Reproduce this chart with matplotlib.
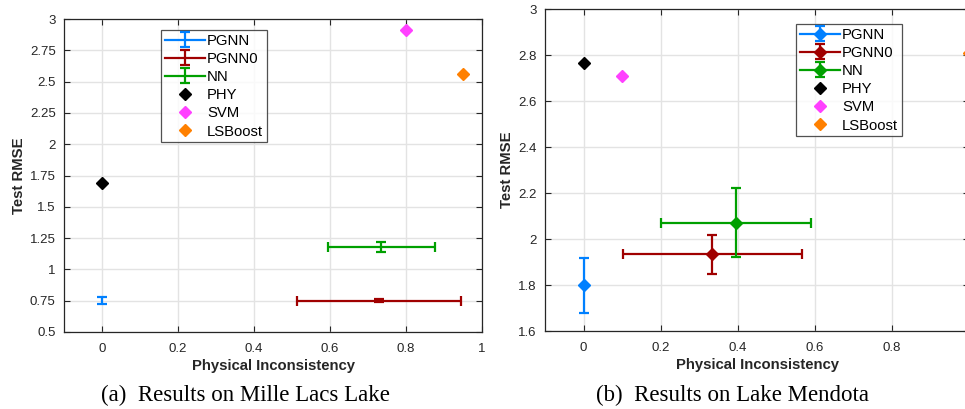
import matplotlib
matplotlib.use("Agg")
import matplotlib.pyplot as plt
import numpy as np

plt.rcParams['font.family'] = ['Liberation Sans', 'DejaVu Sans']

# ---- data: Mille Lacs Lake (a) ----
models_eb = ["PGNN", "PGNN0", "NN"]
a_x = [0.0, 0.729, 0.735]
a_y = [0.75, 0.75, 1.177]
a_xerr = [0.0, 0.216, 0.14]
a_yerr = [0.026, 0.013, 0.04]
models_pt = ["PHY", "SVM", "LSBoost"]
a_pt_x = [0.0, 0.80, 0.95]
a_pt_y = [1.69, 2.91, 2.56]

# ---- data: Lake Mendota (b) ----
b_x = [0.0, 0.334, 0.396]
b_y = [1.798, 1.934, 2.07]
b_xerr = [0.0, 0.232, 0.194]
b_yerr = [0.12, 0.085, 0.15]
b_pt_x = [0.0, 0.10, 1.0]
b_pt_y = [2.766, 2.708, 2.808]

a_yticks = [0.5, 0.75, 1, 1.25, 1.5, 1.75, 2, 2.25, 2.5, 2.75, 3]
a_yticklabels = ["0.5", "0.75", "1", "1.25", "1.5", "1.75", "2", "2.25", "2.5", "2.75", "3"]
a_xticks = [0, 0.2, 0.4, 0.6, 0.8, 1]
a_xticklabels = ["0", "0.2", "0.4", "0.6", "0.8", "1"]
b_yticks = [1.6, 1.8, 2.0, 2.2, 2.4, 2.6, 2.8, 3.0]
b_yticklabels = ["1.6", "1.8", "2", "2.2", "2.4", "2.6", "2.8", "3"]
b_xticks = [0, 0.2, 0.4, 0.6, 0.8, 1]
b_xticklabels = ["0", "0.2", "0.4", "0.6", "0.8", ""]

eb_colors = ["#0080ff", "#a00000", "#00a000"]
pt_colors = ["#000000", "#ff40ff", "#ff8000"]

W, H = 965, 409
fig = plt.figure(figsize=(W / 100, H / 100), dpi=100)

def px_axes(l, r, t, b):
    return fig.add_axes([l / W, (H - b) / H, (r - l) / W, (b - t) / H])

def draw(ax, x, y, xerr, yerr, px, py, eb_marker, yticks, ylabels, xticks, xlabels, ylim, legend_loc):
    handles = []
    for i in range(3):
        ax.errorbar([x[i]], [y[i]], xerr=[xerr[i]] if xerr[i] > 0 else None,
                    yerr=[yerr[i]], fmt=eb_marker, color=eb_colors[i], ecolor=eb_colors[i],
                    lw=1.6, elinewidth=1.6, capsize=3.5, capthick=1.6, markersize=6,
                    zorder=3, clip_on=True)
        h = ax.errorbar([np.nan], [np.nan], yerr=[1], fmt='-' + (eb_marker if eb_marker != 'none' else ''),
                        color=eb_colors[i], ecolor=eb_colors[i], lw=1.6, elinewidth=1.6,
                        capsize=3.5, capthick=1.6, markersize=6, label=models_eb[i])
        handles.append(h)
    for i in range(3):
        h, = ax.plot([px[i]], [py[i]], linestyle='none', marker='D', color=pt_colors[i],
                     markersize=6.5, label=models_pt[i], zorder=3, clip_on=False)
        handles.append(h)
    ax.set_xlim(-0.1, 1.0)
    ax.set_ylim(*ylim)
    ax.set_xticks(xticks)
    ax.set_xticklabels(xlabels)
    ax.set_yticks(yticks)
    ax.set_yticklabels(ylabels)
    ax.grid(True, color='#e3e3e3', lw=1.0, zorder=0)
    ax.set_axisbelow(True)
    ax.tick_params(direction='in', top=True, right=True, length=4, width=0.8,
                   labelsize=9.5, colors='#262626')
    ax.tick_params(axis='x', pad=8)
    ax.tick_params(axis='y', pad=6)
    for s in ax.spines.values():
        s.set_color('#262626')
        s.set_linewidth(0.9)
    ax.set_xlabel("Physical Inconsistency", fontsize=10.7, fontweight='bold', color='#262626', labelpad=3)
    ax.set_ylabel("Test RMSE", fontsize=10.7, fontweight='bold', color='#262626', labelpad=3)
    leg = ax.legend(handles=handles, loc='upper left', bbox_to_anchor=legend_loc,
                    fontsize=10.7, frameon=True, fancybox=False, edgecolor='#262626',
                    handlelength=2.7, handletextpad=0.15, borderpad=0.25, labelspacing=0.28,
                    borderaxespad=0)
    leg.get_frame().set_linewidth(0.9)
    return ax

ax1 = px_axes(64, 482, 19, 332)
draw(ax1, a_x, a_y, a_xerr, a_yerr, a_pt_x, a_pt_y, 'none',
     a_yticks, a_yticklabels, a_xticks, a_xticklabels, (0.5, 3.0),
     ((161 - 64) / 418, (332 - 30) / 313))

ax2 = px_axes(545, 969, 9, 331)
draw(ax2, b_x, b_y, b_xerr, b_yerr, b_pt_x, b_pt_y, 'D',
     b_yticks, b_yticklabels, b_xticks, b_xticklabels, (1.6, 3.0),
     ((796 - 545) / 424, (331 - 24) / 322))

fig.text(245 / W, (H - 395) / H, "(a)  Results on Mille Lacs Lake", ha='center', va='center',
         fontsize=16.5, family=['Liberation Serif'])
fig.text(733 / W, (H - 395) / H, "(b)  Results on Lake Mendota", ha='center', va='center',
         fontsize=16.5, family=['Liberation Serif'])

fig.savefig("out.png", dpi=100)
